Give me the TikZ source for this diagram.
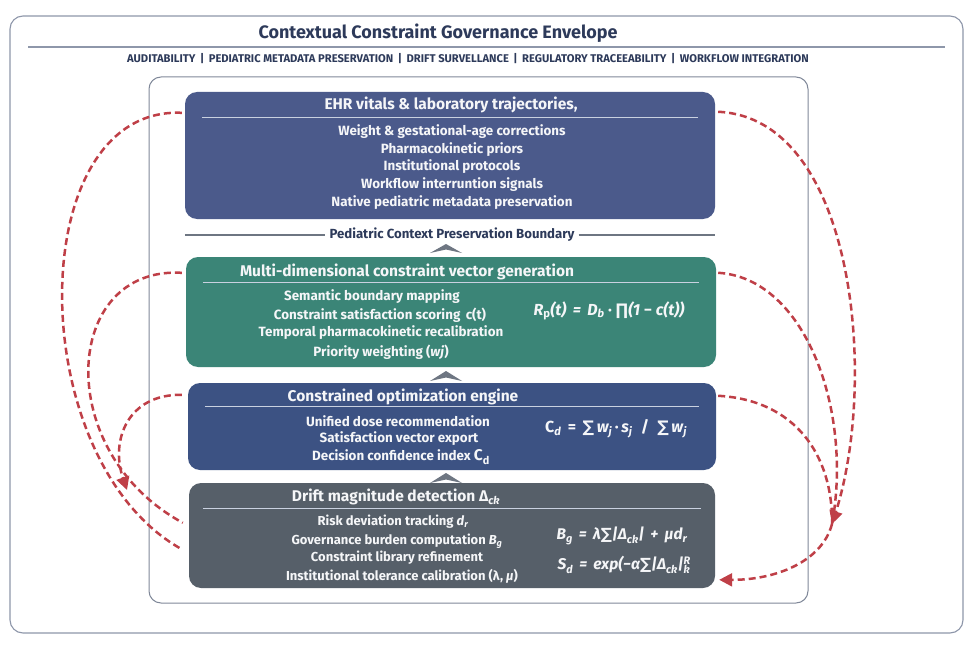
\documentclass[tikz,border=0pt]{standalone}
\usepackage{fontspec}
\setmainfont{Fira Sans}
\newfontfamily\dv{DejaVu Sans}
\usetikzlibrary{arrows.meta,calc}
\definecolor{ttl}{HTML}{2D3A5A}
\definecolor{frm}{HTML}{8E97AA}
\definecolor{boxA}{HTML}{4B5A8B}
\definecolor{boxB}{HTML}{3B8577}
\definecolor{boxC}{HTML}{3C5283}
\definecolor{boxD}{HTML}{565F69}
\definecolor{sepc}{HTML}{C9D1E0}
\definecolor{redd}{HTML}{BF3F47}
\definecolor{chevc}{HTML}{6E7682}
\definecolor{txtw}{HTML}{F5F6F8}
\begin{document}
\begin{tikzpicture}[x=1pt,y=-1pt,
  frame/.style={draw=frm,line width=1.1pt,rounded corners=13pt},
  panel/.style={draw=none,rounded corners=12pt,inner sep=0pt},
  boxtitle/.style={text=txtw,font=\bfseries\fontsize{15.5}{17}\selectfont,inner sep=1pt},
  boxline/.style={text=txtw,font=\bfseries\fontsize{13.4}{15}\selectfont,inner sep=1pt},
  smline/.style={text=txtw,font=\bfseries\fontsize{13}{15}\selectfont,inner sep=1pt},
  formula/.style={text=txtw,font=\bfseries\itshape\fontsize{16}{18}\selectfont,inner sep=1pt},
  sepline/.style={draw=sepc,line width=0.8pt},
  flow/.style={draw=redd,line width=2.5pt,dash pattern=on 7pt off 4pt},
  tipA/.style={-{Triangle[length=13pt,width=13pt]}},
  chev/.style={fill=chevc},
  bline/.style={draw=chevc,line width=2pt}]
\useasboundingbox (0,0) rectangle (975,650);
\fill[white] (0,0) rectangle (975,650);
% outer envelope
\draw[frame] (10,16) rectangle (963,633);
\node[text=ttl,font=\bfseries\fontsize{18}{21}\selectfont] (title) at (438,33) {Contextual Constraint Governance Envelope};
\draw[draw=frm,line width=1.2pt] (28,47) -- (945,47);
\node[text=ttl,font=\bfseries\fontsize{11.2}{13}\selectfont] (sub) at (468,59) {AUDITABILITY \,|\, PEDIATRIC METADATA PRESERVATION \,|\, DRIFT SURVELLANCE \,|\, REGULATORY TRACEEABILITY \,|\, WORKFLOW INTEGRATION};
% inner frame
\draw[frame,draw=frm!90!black,line width=1pt,rounded corners=12pt] (149,77) rectangle (808,603);
% boxes
\node[panel,fill=boxA,minimum width=530pt,minimum height=127pt] (b1) at (450,155.5) {};
\node[panel,fill=boxB,minimum width=530pt,minimum height=110pt] (b2) at (451,312) {};
\node[panel,fill=boxC,minimum width=528pt,minimum height=87pt] (b3) at (452,426.5) {};
\node[panel,fill=boxD,minimum width=526pt,minimum height=105pt] (b4) at (452,535.5) {};
% box 1
\node[boxtitle] (t1) at (451,105) {EHR vitals \& laboratory trajectories,};
\draw[sepline] ($(b1.north west)+(17,25.5)$) -- ($(b1.north east)+(-17,25.5)$);
\node[boxline] (t1a) at (452,132) {Weight \& gestational-age corrections};
\node[boxline] (t1b) at (452,150) {Pharmacokinetic priors};
\node[boxline] (t1c) at (452,167) {Institutional protocols};
\node[boxline] (t1d) at (452,185) {Workflow interruntion signals};
\node[boxline] (t1e) at (452,203) {Native pediatric metadata preservation};
% boundary
\node[text=ttl,font=\bfseries\fontsize{13.2}{15}\selectfont,inner sep=4pt] (bd) at (452,235) {Pediatric Context Preservation Boundary};
\draw[bline] (b1.west |- bd) -- (bd.west);
\draw[bline] (bd.east) -- (b1.east |- bd);
% box 2
\node[boxtitle] (t2) at (407,272) {Multi-dimensional constraint vector generation};
\draw[sepline] ($(b2.north west)+(17,26)$) -- ($(b2.north east)+(-17,26)$);
\node[boxline] (t2a) at (372,297) {Semantic boundary mapping};
\node[boxline] (t2b) at (380,315) {Constraint satisfaction scoring \,c(t)};
\node[boxline] (t2c) at (381,333) {Temporal pharmacokinetic recalibration};
\node[boxline] (t2d) at (381,352) {Priority weighting (\textit{wj})};
\node[formula] (f2) at (609,311) {R\textsubscript{\upshape p}(t)\, = \,D\textsubscript{b} {\upshape·} {\dv\upshape ∏}(1 {\upshape −} c(t))};
% box 3
\node[boxtitle] (t3) at (403,397) {Constrained optimization engine};
\draw[sepline] ($(b3.north west)+(17,24)$) -- ($(b3.north east)+(-17,24)$);
\node[boxline] (t3a) at (398,421) {Unified dose recommendation};
\node[boxline] (t3b) at (399,439) {Satisfaction vector export};
\node[boxline] (t3c) at (401,457) {Decision confidence index {\fontsize{15.5}{17}\selectfont C\textsubscript{d}}};
\node[formula,font=\bfseries\fontsize{16}{18}\selectfont] (f3) at (616,429) {C\textsubscript{\itshape d}\, = \,{\dv ∑}\,\textit{w\textsubscript{j}}\,·\,\textit{s\textsubscript{j}} \;/\; {\dv ∑}\,\textit{w\textsubscript{j}}};
% box 4
\node[boxtitle] (t4) at (396,497) {Drift magnitude detection Δ\textsubscript{\itshape ck}};
\draw[sepline] ($(b4.north west)+(14,25.5)$) -- ($(b4.north east)+(-14,25.5)$);
\node[smline] (t4a) at (393,522) {Risk deviation tracking \textit{d\textsubscript{r}}};
\node[smline] (t4b) at (397,541) {Governance burden computation \textit{B\textsubscript{g}}};
\node[smline] (t4c) at (397,558) {Constraint library refinement};
\node[smline] (t4d) at (402,576) {Institutional tolerance calibration (λ, \textit{μ})};
\node[formula,font=\bfseries\itshape\fontsize{15.5}{17}\selectfont] (f4a) at (622,536) {B\textsubscript{g}\, = \,λ{\dv\upshape ∑}|Δ\textsubscript{ck}|\, + \,μd\textsubscript{r}};
\node[formula,font=\bfseries\itshape\fontsize{15.5}{17}\selectfont] (f4b) at (624,565) {S\textsubscript{d}\, = \,exp(−α{\dv\upshape ∑}|Δ\textsubscript{ck}|\textsuperscript{R}\kern-0.45em\textsubscript{k}};
% chevrons between stages
\fill[chev] (430,253) -- (446,244) -- (462,253) -- (446,249.5) -- cycle;
\fill[chev] (430,381) -- (446,371) -- (462,381) -- (446,377.5) -- cycle;
\fill[chev] (430,483) -- (446,473) -- (462,483) -- (446,479.5) -- cycle;
% feedback connectors, left
\coordinate (lA) at ($(b1.north west)+(-3,21)$);
\coordinate (lB) at ($(b2.north west)+(-4,16)$);
\coordinate (lC) at ($(b3.north west)+(-6,12)$);
\coordinate (lD) at ($(b4.north west)+(-6,40)$);
\coordinate (lE) at ($(b4.north west)+(-6,67)$);
\coordinate (lM) at (127,490);
\draw[flow] (lA) .. controls (22,106) and (22,462) .. (lE);
\draw[flow] (lB) .. controls (62,266) and (52,452) .. (lD);
\draw[flow,tipA] (lC) .. controls (128,394) and (110,440) .. (lM);
% feedback connectors, right
\coordinate (rA) at ($(b1.north east)+(3,20)$);
\coordinate (rB) at ($(b2.north east)+(2,16)$);
\coordinate (rC) at ($(b3.north east)+(2,13)$);
\coordinate (rM) at (832,524);
\coordinate (rE) at ($(b4.north east)+(4,97)$);
\draw[flow] (rB) .. controls (805,278) and (853,410) .. (rM);
\draw[flow] (rC) .. controls (795,400) and (833,455) .. (rM);
\draw[flow,tipA] (rA) .. controls (855,118) and (878,380) .. (rM);
\draw[flow,tipA] (rM) .. controls (822,562) and (775,580) .. (rE);
\end{tikzpicture}
\end{document}
